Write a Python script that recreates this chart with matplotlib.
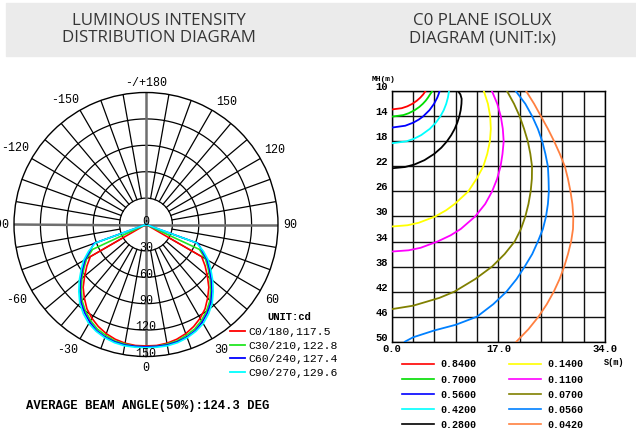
import numpy as np
import matplotlib
matplotlib.use('Agg')
import matplotlib.pyplot as plt
from matplotlib.lines import Line2D
from matplotlib.patches import Rectangle

W, H = 636, 435
MONO = 'Liberation Mono'

# ---- luminous intensity (cd) vs gamma angle (deg), one list per C plane
gamma = [0, 5, 10, 15, 20, 25, 30, 35, 40, 45, 50, 55, 60, 65, 70, 75, 80, 85, 90]
c0_180 = [138, 138, 137, 135, 132, 128, 123, 117, 109, 101, 91, 82, 73, 0, 0, 0, 0, 0, 0]
c30_210 = [139, 139, 138, 137, 134, 131, 126, 120, 113, 104, 95, 86, 78, 67, 0, 0, 0, 0, 0]
c60_240 = [139, 139, 139, 138, 136, 133, 128, 122, 115, 106, 97, 88, 80, 70, 63, 0, 0, 0, 0]
c90_270 = [140, 140, 140, 139, 137, 134, 130, 124, 117, 108, 99, 90, 82, 72, 61, 0, 0, 0, 0]
plane_names = ['C0/180', 'C30/210', 'C60/240', 'C90/270']
beam_angles = [117.5, 122.8, 127.4, 129.6]
plane_colors = ['#ff0000', '#22e622', '#0000ff', '#00ffff']

ring_values = [30, 60, 90, 120, 150]
angle_labels = ['0', '30', '60', '90', '120', '150', '-/+180', '-150', '-120', '-90', '-60', '-30']
# where each angle label sits around the rim (deg from the downward axis)
angle_label_pos = [0, 31, 59.5, 90, 120.5, 147, 180, -147, -120.5, -90, -60, -32]

# ---- C0 plane isolux curves: S (m) against mounting height MH (m)
iso_levels = [0.84, 0.70, 0.56, 0.42, 0.28, 0.14, 0.11, 0.07, 0.056, 0.042]
iso_colors = ['#ff0000', '#00dd00', '#0000ff', '#00ffff', '#000000',
              '#ffff00', '#ff00ff', '#808000', '#0080ff', '#ff8040']

h_084 = [10, 10.5, 11, 11.5, 12, 12.4, 12.7, 12.9]
s_084 = [5.36, 5.02, 4.57, 4.01, 3.29, 2.49, 1.59, 0]
h_070 = [10, 10.5, 11, 11.5, 12, 12.5, 13, 13.5, 13.8, 14.05]
s_070 = [6.45, 6.11, 5.79, 5.42, 4.96, 4.40, 3.69, 2.72, 1.86, 0]
h_056 = [10, 10.5, 11, 12, 13, 14, 14.5, 15, 15.5, 15.8]
s_056 = [7.62, 7.46, 7.27, 6.75, 6.03, 5.02, 4.34, 3.46, 2.16, 0]
h_042 = [10, 11, 12, 13, 14, 15, 16, 17, 17.6, 18, 18.3]
s_042 = [9.13, 8.96, 8.69, 8.30, 7.76, 7.04, 6.07, 4.70, 3.51, 2.32, 0]
h_028 = [10, 10.5, 11.2, 12, 13, 14, 15, 16, 17, 18, 19, 20, 21, 21.7, 22.1, 22.3]
s_028 = [10.6, 10.95, 11.15, 11.12, 11.0, 10.78, 10.46, 10.04, 9.49, 8.80, 7.92, 6.78,
         5.22, 3.61, 2.10, 0]
h_014 = [10, 12, 14, 16, 18, 20, 22, 24, 26, 28, 29, 30, 31, 31.4, 31.6]
s_014 = [14.70, 15.34, 15.70, 15.80, 15.65, 15.23, 14.6, 13.51, 12.2, 10.04, 8.68, 6.93,
         4.31, 2.51, 0]
h_011 = [10, 12, 14, 16, 18, 20, 22, 24, 26, 28, 30, 32, 33, 34, 35, 35.4, 35.6]
s_011 = [15.99, 16.83, 17.39, 17.71, 17.85, 17.66, 17.35, 16.8, 16.0, 14.9, 13.3, 11.0,
         9.4, 7.3, 4.6, 2.7, 0]
h_007 = [10, 12, 14, 16, 18, 20, 22, 24, 26, 28, 30, 32, 34, 36, 38, 40, 42, 43, 43.6,
         44.25, 44.8]
s_007 = [18.4, 19.5, 20.4, 21.1, 21.7, 22.1, 22.37, 22.34, 22.15, 21.8, 21.3, 20.6, 19.6,
         18.0, 16.0, 13.3, 10.0, 7.6, 5.6, 3.4, 0]
h_0056 = [10, 12, 14, 16, 18, 20, 22, 24, 26, 28, 30, 32, 34, 36, 38, 40, 42, 44, 46,
          47.3, 48.2, 49.3, 50]
s_0056 = [19.8, 21.3, 22.4, 23.3, 24.0, 24.5, 24.9, 25.0, 25.05, 24.9, 24.6, 24.1, 23.3,
          22.4, 21.2, 19.9, 18.3, 16.2, 13.6, 10.2, 6.8, 3.4, 2.1]
h_0042 = [10, 12, 14, 16, 18, 20, 22, 24, 26, 28, 30, 32, 34, 36, 38, 40, 42, 44, 46, 48, 50]
s_0042 = [21.45, 22.7, 23.8, 24.9, 25.9, 26.8, 27.6, 28.1, 28.5, 28.8, 28.95, 28.9, 28.6,
          28.1, 27.5, 26.76, 25.84, 24.73, 23.40, 21.80, 19.87]

x_ticks = [0, 3.4, 6.8, 10.2, 13.6, 17, 20.4, 23.8, 27.2, 30.6, 34]
x_tick_labels = ['0.0', '', '', '', '', '17.0', '', '', '', '', '34.0']
y_ticks = [10, 14, 18, 22, 26, 30, 34, 38, 42, 46, 50]


def fx(x):
    return x / W


def fy(y):
    return 1 - y / H


fig = plt.figure(figsize=(W / 100, H / 100), dpi=100)

# header band
fig.patches.append(Rectangle((fx(6), fy(57)), fx(630), 53 / H, transform=fig.transFigure,
                             color='#ebebeb', zorder=0))
head_kw = dict(family='Open Sans', fontsize=12.2, color='#363636', ha='center', va='center')
fig.text(fx(159), fy(21), 'LUMINOUS INTENSITY', **head_kw)
fig.text(fx(159), fy(38.5), 'DISTRIBUTION DIAGRAM', **head_kw)
fig.text(fx(482), fy(21), 'C0 PLANE ISOLUX', **head_kw)
fig.text(fx(482), fy(38.5), 'DIAGRAM (UNIT:lx)', **head_kw)

# ---- polar luminous intensity diagram
R_PX = 132
cx, cy = 146, 225.5
axp = fig.add_axes([fx(cx - R_PX), fy(cy + R_PX), 2 * R_PX / W, 2 * R_PX / H],
                   projection='polar')
axp.set_theta_zero_location('S')
axp.set_theta_direction(1)
axp.set_ylim(0, 150)
axp.set_xticks([])
axp.set_yticks([])
axp.grid(False)
axp.spines['polar'].set_linewidth(1.0)

th = np.linspace(0, 2 * np.pi, 361)
for r in ring_values[:-1]:
    axp.plot(th, np.full_like(th, r), color='k', lw=0.9)
for a in range(0, 360, 10):
    if a % 90:
        axp.plot([np.radians(a)] * 2, [30, 150], color='k', lw=0.9)
for a in (0, 90, 180, 270):
    axp.plot([np.radians(a)] * 2, [0, 150], color='#6e6e6e', lw=1.8)

g = np.array(gamma, dtype=float)
for vals, col in zip([c0_180, c30_210, c60_240, c90_270], plane_colors):
    v = np.array(vals, dtype=float)
    theta = np.radians(np.concatenate([-g[::-1], g[1:]]))
    rr = np.concatenate([v[::-1], v[1:]])
    axp.plot(theta, rr, color=col, lw=1.2)

tick_kw = dict(family=MONO, fontsize=8.4, color='k', ha='center', va='center')
for ang, lab in zip(angle_label_pos, angle_labels):
    t = np.radians(ang)
    d = R_PX + 5.3 + abs(np.sin(t)) * 3.5 * len(lab) + abs(np.cos(t)) * 5
    axp.text(t, d * 150 / R_PX, lab, clip_on=False, **tick_kw)
for r in ring_values:
    axp.text(0, r - 4.2, str(r), **tick_kw)
axp.text(np.pi, 4.2, '0', **tick_kw)

# polar legend
fig.text(fx(267), fy(317), 'UNIT:cd', family=MONO, fontsize=7.6, fontweight='bold',
         va='center')
for i, (name, ba, col) in enumerate(zip(plane_names, beam_angles, plane_colors)):
    yy = 332 + 13.6 * i
    fig.add_artist(Line2D([fx(230), fx(245)], [fy(yy), fy(yy)], color=col, lw=1.3,
                          transform=fig.transFigure))
    fig.text(fx(248), fy(yy), '%s,%.1f' % (name, ba), family=MONO, fontsize=8.2,
             va='center')

fig.text(fx(26.5), fy(406), 'AVERAGE BEAM ANGLE(50%%):%.1f DEG' % np.mean(beam_angles),
         family=MONO, fontsize=8.8, fontweight='bold', va='center')

# ---- isolux diagram
axi = fig.add_axes([fx(391.7), fy(342.7), 213.3 / W, 250.4 / H])
curves = [(s_084, h_084), (s_070, h_070), (s_056, h_056), (s_042, h_042), (s_028, h_028),
          (s_014, h_014), (s_011, h_011), (s_007, h_007), (s_0056, h_0056),
          (s_0042, h_0042)]
for (s, h), col in zip(curves, iso_colors):
    axi.plot(s, h, color=col, lw=1.3, zorder=3)
axi.set_xlim(0, 34)
axi.set_ylim(50, 10)
axi.set_xticks(x_ticks)
axi.set_xticklabels(x_tick_labels)
axi.set_yticks(y_ticks)
axi.set_yticklabels([str(v) for v in y_ticks])
axi.grid(True, color='#111111', lw=1.0)
axi.set_axisbelow(True)
for sp in axi.spines.values():
    sp.set_linewidth(1.0)
axi.tick_params(axis='x', length=0, pad=0.6)
axi.tick_params(axis='y', length=0, pad=2.7)
for lbl in axi.get_xticklabels() + axi.get_yticklabels():
    lbl.set_family(MONO)
    lbl.set_fontsize(7.6)
    lbl.set_fontweight('bold')
for lbl in axi.get_yticklabels():
    lbl.set_va('bottom')

fig.text(fx(371.5), fy(79.5), 'MH(m)', family=MONO, fontsize=5.8, fontweight='bold',
         va='center')
fig.text(fx(604), fy(362.3), 'S(m)', family=MONO, fontsize=6.2, fontweight='bold',
         va='center')

# isolux legend, two columns
for i, (lev, col) in enumerate(zip(iso_levels, iso_colors)):
    col_i, row = divmod(i, 5)
    yy = 364.5 + 15.2 * row
    x0 = 402.3 if col_i == 0 else 509
    fig.add_artist(Line2D([fx(x0), fx(x0 + 32)], [fy(yy), fy(yy)], color=col, lw=1.2,
                          transform=fig.transFigure))
    fig.text(fx(x0 + 38.4), fy(yy), '%.4f' % lev, family=MONO, fontsize=7.2,
             fontweight='bold', va='center')

fig.savefig('out.png', dpi=100)
